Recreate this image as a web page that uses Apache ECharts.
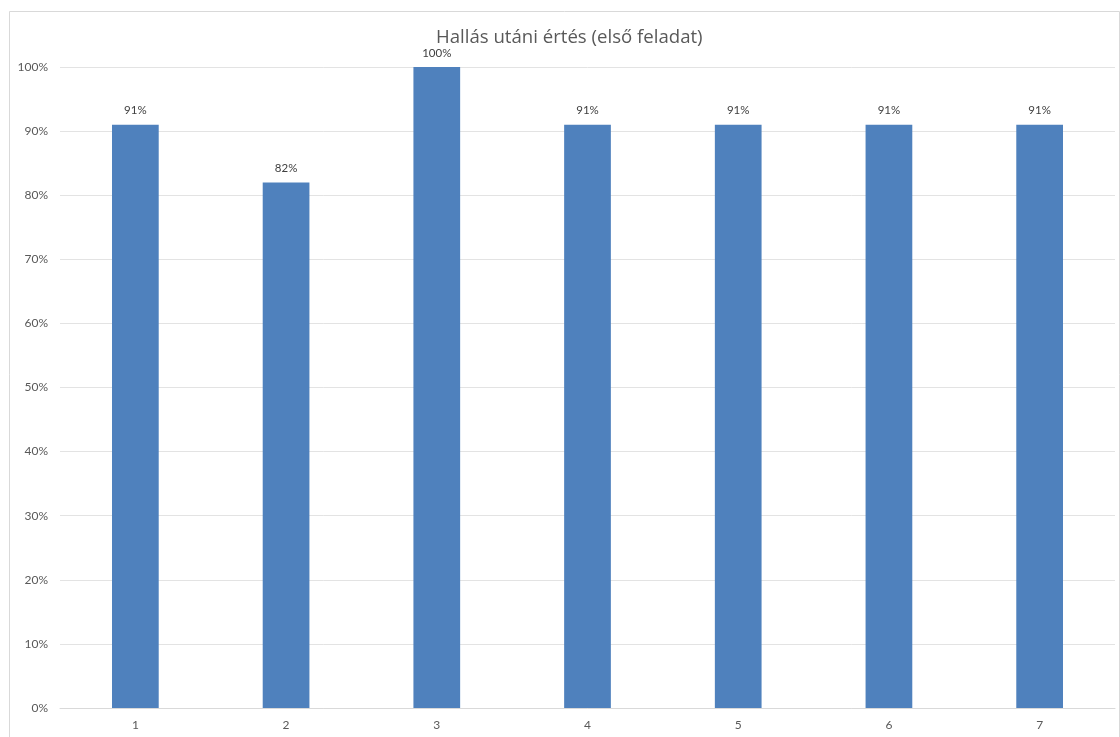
<!DOCTYPE html>
<html><head><meta charset="utf-8">
<script src="https://cdn.jsdelivr.net/npm/echarts@6/dist/echarts.min.js"></script>
<style>html,body{margin:0;padding:0;background:#fff}#c{width:1120px;height:737px}</style>
</head><body><div id="c"></div>
<script>
const categories = ['1','2','3','4','5','6','7'];
const values = [91, 82, 100, 91, 91, 91, 91];
const titleText = 'Hallás utáni értés (első feladat)';

const chart = echarts.init(document.getElementById('c'), null, {renderer:'canvas'});
chart.setOption({
  animation: false,
  backgroundColor: '#fff',
  title: {
    text: titleText, left: 431, top: 23,
    textStyle: {fontFamily: 'Open Sans', fontSize: 18.6, fontWeight: 'normal', color: '#595959'}
  },
  graphic: [{
    type: 'rect', left: 7, top: 9, silent: true,
    shape: {width: 1110, height: 760},
    style: {fill: 'none', stroke: '#d9d9d9', lineWidth: 1}
  }],
  grid: {left: 60, right: 5, top: 67, bottom: 29, containLabel: false},
  xAxis: {
    type: 'category', data: categories,
    axisLine: {show: true, lineStyle: {color: '#d9d9d9'}},
    axisTick: {show: false},
    axisLabel: {color: '#595959', fontFamily: 'Lato', fontSize: 12, margin: 11}
  },
  yAxis: {
    type: 'value', min: 0, max: 100, interval: 10,
    axisLine: {show: false}, axisTick: {show: false},
    splitLine: {lineStyle: {color: '#e3e3e3'}},
    axisLabel: {color: '#595959', fontFamily: 'Lato', fontSize: 12, margin: 12, formatter: v => v + '%'}
  },
  series: [{
    type: 'bar', data: values, barWidth: '31%',
    itemStyle: {color: '#4f81bd'},
    label: {show: true, position: 'top', distance: 8, color: '#404040', fontFamily: 'Lato', fontSize: 11.5, formatter: p => p.value + '%'}
  }]
});
</script></body></html>
